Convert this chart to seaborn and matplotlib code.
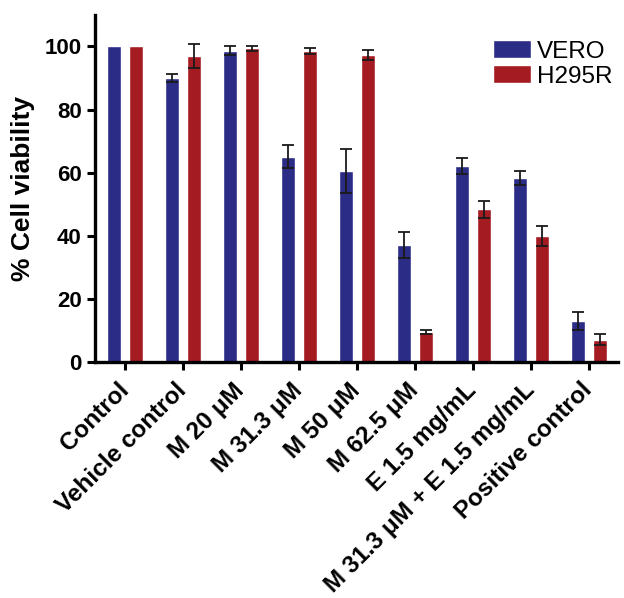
import matplotlib
matplotlib.use("Agg")
import matplotlib.pyplot as plt
import seaborn as sns
import pandas as pd
import numpy as np

categories = ["Control", "Vehicle control", "M 20 μM", "M 31.3 μM", "M 50 μM",
              "M 62.5 μM", "E 1.5 mg/mL", "M 31.3 μM + E 1.5 mg/mL", "Positive control"]
vero = [100, 90, 98.7, 65.1, 60.5, 37.0, 62.1, 58.4, 13.0]
vero_err = [0, 1.2, 1.3, 3.7, 6.9, 4.1, 2.6, 2.2, 2.8]
h295r = [100, 96.9, 99.5, 98.6, 97.3, 9.5, 48.3, 39.8, 7.0]
h295r_err = [0, 3.8, 0.8, 1.0, 1.7, 0.7, 2.8, 3.2, 1.8]
series = ["VERO", "H295R"]
colors = ["#2b2c86", "#a51b22"]

df = pd.DataFrame({
    "cat": categories * 2,
    "val": vero + h295r,
    "cell": [series[0]] * len(categories) + [series[1]] * len(categories),
})

sns.set_theme(style="ticks")
plt.rcParams["font.family"] = ["Liberation Sans", "DejaVu Sans"]
for k in ["text.color", "axes.labelcolor", "xtick.color", "ytick.color", "axes.edgecolor"]:
    plt.rcParams[k] = "black"

fig = plt.figure(figsize=(6.24, 5.98), dpi=100)
ax = fig.add_axes([0.152, 0.395, 0.838, 0.58])

sns.barplot(data=df, x="cat", y="val", hue="cell", order=categories,
            hue_order=series, palette=colors, width=0.76, gap=0.37,
            saturation=1, errorbar=None, ax=ax, zorder=2)

for cont, errs in zip(ax.containers, [vero_err, h295r_err]):
    xs = [p.get_x() + p.get_width() / 2 for p in cont]
    hs = [p.get_height() for p in cont]
    e = np.array(errs, dtype=float)
    mask = e > 0
    ax.errorbar(np.array(xs)[mask], np.array(hs)[mask], yerr=e[mask], fmt="none",
                ecolor="#1a1a1a", elinewidth=1.3, capsize=4.5, capthick=1.3, zorder=3)

ax.set_xlim(-0.52, 8.5)
ax.set_ylim(0, 110)
ax.set_yticks([0, 20, 40, 60, 80, 100])
ax.set_xlabel("")
ax.set_ylabel("% Cell viability", fontsize=19, fontweight="bold", labelpad=7)
ax.tick_params(axis="y", labelsize=16, width=2.2, length=6)
ax.tick_params(axis="x", labelsize=17.5, width=2.2, length=6, pad=12)
for lab in ax.get_yticklabels():
    lab.set_fontweight("bold")
ax.set_xticks(range(len(categories)))
ax.set_xticklabels(categories, rotation=45, ha="right", va="center",
                   rotation_mode="anchor", fontweight="bold")
for s in ["left", "bottom"]:
    ax.spines[s].set_linewidth(2.4)
    ax.spines[s].set_color("black")
sns.despine(ax=ax)

leg = ax.legend(loc="upper right", bbox_to_anchor=(0.995, 0.935), frameon=False,
                fontsize=17.5, handlelength=1.55, handleheight=0.78,
                handletextpad=0.25, labelspacing=0.1, borderaxespad=0, borderpad=0.1)

fig.savefig("out.png", dpi=100)
